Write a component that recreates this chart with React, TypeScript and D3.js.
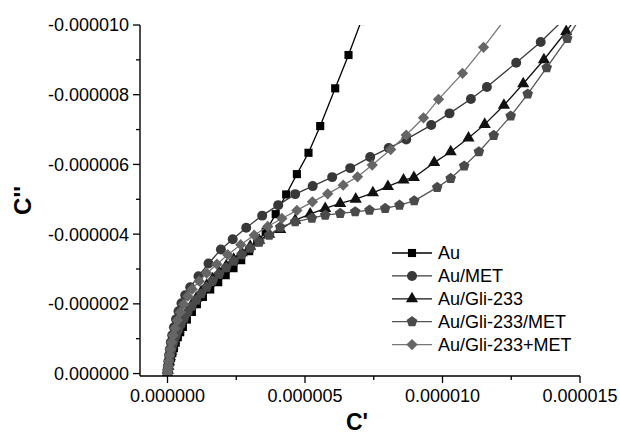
import * as d3 from "d3";

const width = 620;
const height = 434;
const margin = { top: 25, right: 40, bottom: 58, left: 140 };
const innerWidth = width - margin.left - margin.right;
const innerHeight = height - margin.top - margin.bottom;

// values in units of 1e-6 (C', C'')
const auX = [0, 0.018, 0.044, 0.08, 0.124, 0.175, 0.233, 0.298, 0.375, 0.462, 0.56, 0.705, 0.887, 1.069, 1.287, 1.553, 1.844, 2.116, 2.4, 2.68, 2.971, 3.262, 3.571, 3.935, 4.316, 4.705, 5.127, 5.553, 6.098, 6.582, 7.044];
const auY = [0, -0.095, -0.195, -0.31, -0.439, -0.583, -0.726, -0.884, -1.042, -1.186, -1.338, -1.55, -1.769, -1.99, -2.199, -2.412, -2.621, -2.822, -3.023, -3.253, -3.511, -3.77, -4.071, -4.574, -5.139, -5.722, -6.334, -7.1, -8.183, -9.139, -10.115];

const metX = [0, 0.007, 0.018, 0.033, 0.055, 0.084, 0.12, 0.171, 0.233, 0.309, 0.4, 0.509, 0.644, 0.825, 1.127, 1.491, 1.942, 2.371, 2.862, 3.444, 4.025, 4.644, 5.28, 5.989, 6.644, 7.371, 8.044, 8.68, 9.589, 10.255, 11.033, 11.615, 12.68, 13.571, 14.389];
const metY = [0, -0.095, -0.21, -0.353, -0.525, -0.698, -0.899, -1.1, -1.329, -1.559, -1.789, -2.018, -2.248, -2.478, -2.794, -3.158, -3.56, -3.856, -4.186, -4.531, -4.832, -5.148, -5.378, -5.636, -5.894, -6.21, -6.469, -6.718, -7.129, -7.465, -7.875, -8.22, -8.918, -9.512, -10.144];

const gliX = [0, 0.015, 0.033, 0.058, 0.091, 0.135, 0.185, 0.247, 0.32, 0.404, 0.498, 0.607, 0.735, 0.88, 1.044, 1.225, 1.425, 1.644, 1.88, 2.135, 2.407, 2.698, 3.007, 3.335, 3.698, 4.098, 4.644, 5.189, 5.735, 6.28, 6.844, 7.469, 8.015, 8.582, 8.96, 9.698, 10.298, 10.945, 11.535, 12.233, 12.935, 13.687, 14.498, 14.935];
const gliY = [0, -0.095, -0.21, -0.339, -0.482, -0.64, -0.798, -0.956, -1.114, -1.272, -1.444, -1.616, -1.789, -1.975, -2.162, -2.349, -2.535, -2.722, -2.908, -3.095, -3.282, -3.468, -3.655, -3.827, -3.999, -4.134, -4.401, -4.576, -4.737, -4.881, -5.004, -5.185, -5.369, -5.55, -5.627, -6.052, -6.362, -6.756, -7.149, -7.697, -8.315, -9.004, -9.813, -10.287];

const gliMetX = [0, 0.015, 0.033, 0.058, 0.091, 0.131, 0.182, 0.244, 0.316, 0.4, 0.498, 0.607, 0.735, 0.88, 1.044, 1.225, 1.425, 1.644, 1.88, 2.135, 2.407, 2.698, 3.007, 3.335, 3.698, 4.098, 4.644, 5.251, 5.735, 6.28, 6.825, 7.345, 7.916, 8.436, 8.971, 9.807, 10.298, 10.789, 11.324, 11.862, 12.48, 13.098, 13.789, 14.535, 15.189];
const gliMetY = [0, -0.095, -0.21, -0.339, -0.482, -0.64, -0.798, -0.956, -1.114, -1.272, -1.43, -1.588, -1.76, -1.932, -2.105, -2.291, -2.478, -2.664, -2.851, -3.038, -3.224, -3.411, -3.598, -3.77, -3.971, -4.2, -4.353, -4.459, -4.545, -4.594, -4.64, -4.689, -4.737, -4.832, -4.956, -5.34, -5.599, -5.952, -6.362, -6.833, -7.387, -8.019, -8.774, -9.612, -10.431];

const plusX = [0, 0.011, 0.025, 0.044, 0.069, 0.102, 0.145, 0.204, 0.273, 0.36, 0.462, 0.589, 0.735, 0.898, 1.153, 1.425, 1.796, 2.189, 2.662, 3.153, 3.644, 4.16, 4.705, 5.269, 5.825, 6.389, 6.909, 7.444, 8.116, 8.68, 9.309, 9.855, 10.727, 11.491, 12.28];
const plusY = [0, -0.095, -0.21, -0.353, -0.525, -0.698, -0.899, -1.1, -1.301, -1.53, -1.76, -1.99, -2.219, -2.42, -2.65, -2.88, -3.138, -3.411, -3.698, -3.971, -4.22, -4.45, -4.68, -4.927, -5.157, -5.406, -5.645, -5.981, -6.425, -6.842, -7.338, -7.867, -8.613, -9.36, -10.172];

const xTicks = [0, 5, 10, 15];
const yTicks = [0, -2, -4, -6, -8, -10];
const xMinor = [2.5, 7.5, 12.5];
const yMinor = [-1, -3, -5, -7, -9];

type Shape = "square" | "circle" | "triangle" | "pentagon" | "diamond";

const series: { name: string; xs: number[]; ys: number[]; shape: Shape; fill: string; line: string }[] = [
  { name: "Au", xs: auX, ys: auY, shape: "square", fill: "#000", line: "#000" },
  { name: "Au/MET", xs: metX, ys: metY, shape: "circle", fill: "#383838", line: "#3a3a3a" },
  { name: "Au/Gli-233", xs: gliX, ys: gliY, shape: "triangle", fill: "#111", line: "#111" },
  { name: "Au/Gli-233/MET", xs: gliMetX, ys: gliMetY, shape: "pentagon", fill: "#4a4a4a", line: "#555" },
  { name: "Au/Gli-233+MET", xs: plusX, ys: plusY, shape: "diamond", fill: "#666", line: "#777" },
];

const xScale = d3.scaleLinear().domain([-1, 15]).range([0, innerWidth]);
const yScale = d3.scaleLinear().domain([0.07, -10]).range([innerHeight, 0]);

const pentagon: d3.SymbolType = {
  draw(ctx, size) {
    const r = Math.sqrt(size / 2.378);
    for (let i = 0; i < 5; i++) {
      const a = -Math.PI / 2 + (i * 2 * Math.PI) / 5;
      if (i === 0) ctx.moveTo(r * Math.cos(a), r * Math.sin(a));
      else ctx.lineTo(r * Math.cos(a), r * Math.sin(a));
    }
    ctx.closePath();
  },
};

function markerPath(shape: Shape): string {
  const s = d3.symbol();
  if (shape === "square") return s.type(d3.symbolSquare).size(66)() || "";
  if (shape === "circle") return s.type(d3.symbolCircle).size(78)() || "";
  if (shape === "triangle") return s.type(d3.symbolTriangle).size(64)() || "";
  if (shape === "pentagon") return s.type(pentagon).size(74)() || "";
  return s.type(d3.symbolSquare).size(64)() || "";
}

const fmt = (v: number) => {
  const val = v * 1e-6;
  const str = Math.abs(val).toFixed(6);
  return (val < 0 ? "-" : "") + str;
};

const font = '"Liberation Sans", Arial, sans-serif';

export default function App() {
  const line = d3
    .line<[number, number]>()
    .x((d) => xScale(d[0]))
    .y((d) => yScale(d[1]));

  return (
    <div style={{ position: "fixed", left: 0, top: 0 }}>
      <svg width={width} height={height} fontFamily={font} style={{ display: "block", background: "#fff" }}>
        <defs>
          <clipPath id="plotClip">
            <rect x={0} y={0} width={innerWidth} height={innerHeight} />
          </clipPath>
        </defs>
        <g transform={`translate(${margin.left},${margin.top})`}>
          <g clipPath="url(#plotClip)">
            {series.map((s) => {
              const pts = s.xs.map((x, i) => [x, s.ys[i]] as [number, number]);
              const path = markerPath(s.shape);
              return (
                <g key={s.name}>
                  <path d={line(pts) || ""} fill="none" stroke={s.line} strokeWidth={1.3} />
                  {pts.map((p, i) => (
                    <path
                      key={i}
                      d={path}
                      fill={s.fill}
                      transform={`translate(${xScale(p[0])},${yScale(p[1])})${s.shape === "diamond" ? " rotate(45)" : ""}`}
                    />
                  ))}
                </g>
              );
            })}
          </g>

          {/* axes */}
          <line x1={0} x2={0} y1={0} y2={innerHeight} stroke="#000" strokeWidth={1.4} />
          <line x1={0} x2={innerWidth} y1={innerHeight} y2={innerHeight} stroke="#000" strokeWidth={1.4} />
          {yTicks.map((t) => (
            <g key={t} transform={`translate(0,${yScale(t)})`}>
              <line x1={-7} x2={0} stroke="#000" strokeWidth={1.3} />
              <text x={-11} dy="0.36em" textAnchor="end" fontSize={18} fill="#000">
                {fmt(t)}
              </text>
            </g>
          ))}
          {yMinor.map((t) => (
            <line key={t} x1={-4} x2={0} y1={yScale(t)} y2={yScale(t)} stroke="#000" strokeWidth={1.3} />
          ))}
          {xTicks.map((t) => (
            <g key={t} transform={`translate(${xScale(t)},${innerHeight})`}>
              <line y1={0} y2={7} stroke="#000" strokeWidth={1.3} />
              <text y={26} textAnchor="middle" fontSize={18} fill="#000">
                {fmt(t)}
              </text>
            </g>
          ))}
          {xMinor.map((t) => (
            <line key={t} x1={xScale(t)} x2={xScale(t)} y1={innerHeight} y2={innerHeight + 4} stroke="#000" strokeWidth={1.3} />
          ))}

          {/* legend */}
          <g transform="translate(252,228)">
            {series.map((s, i) => (
              <g key={s.name} transform={`translate(0,${i * 22.9})`}>
                <line x1={0} x2={40} stroke={s.line} strokeWidth={1.3} />
                <path
                  d={markerPath(s.shape)}
                  fill={s.fill}
                  transform={`translate(20,0)${s.shape === "diamond" ? " rotate(45)" : ""}`}
                />
                <text x={46} dy="0.36em" fontSize={18} fill="#000">
                  {s.name}
                </text>
              </g>
            ))}
          </g>
        </g>

        <text x={margin.left + innerWidth / 2 - 3} y={430} textAnchor="middle" fontSize={23} fontWeight="bold">
          C'
        </text>
        <text
          transform={`translate(31,${margin.top + innerHeight / 2}) rotate(-90)`}
          textAnchor="middle"
          fontSize={24}
          fontWeight="bold"
        >
          C''
        </text>
      </svg>
    </div>
  );
}
